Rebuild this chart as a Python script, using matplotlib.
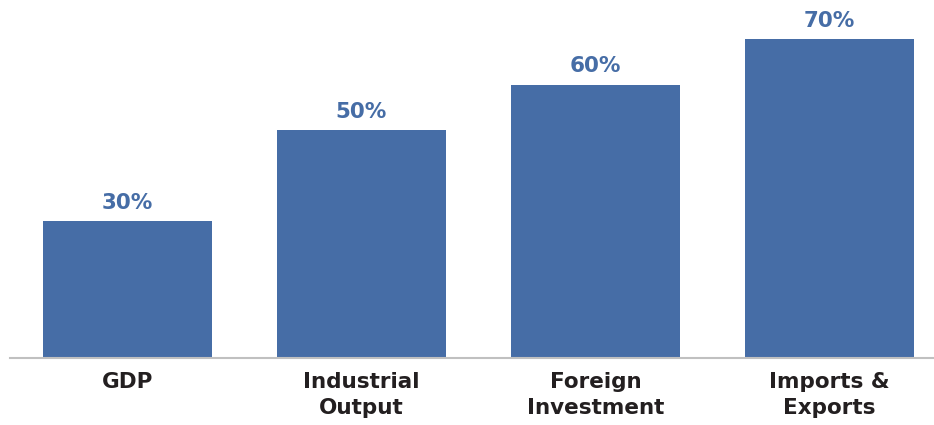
import matplotlib.pyplot as plt

categories = ["GDP", "Industrial\nOutput", "Foreign\nInvestment", "Imports &\nExports"]
values = [30, 50, 60, 70]
labels = ["30%", "50%", "60%", "70%"]

bar_color = "#466da6"
text_color = "#231f20"

plt.rcParams['font.family'] = ['DejaVu Sans']

fig = plt.figure(figsize=(9.34, 4.25), dpi=100)
ax = fig.add_axes([10 / 934, 67 / 425, 924 / 934, 358 / 425])

x = range(len(categories))
bars = ax.bar(x, values, width=169 / 234, color=bar_color, zorder=2)

for b, lab in zip(bars, labels):
    ax.annotate(lab, (b.get_x() + b.get_width() / 2, b.get_height()),
                xytext=(0, 6), textcoords="offset points",
                ha="center", va="bottom", fontsize=15.5, fontweight="bold",
                color=bar_color)

ax.set_xlim(-0.502, 3.447)
ax.set_ylim(0, 358 / 4.555)
ax.set_xticks(list(x))
ax.set_xticklabels(categories, fontsize=15.5, fontweight="bold", color=text_color,
                   linespacing=1.4)
ax.tick_params(axis="x", length=0, pad=10)
ax.set_yticks([])

for side in ["top", "right", "left"]:
    ax.spines[side].set_visible(False)
ax.spines["bottom"].set_color("#c0c0c0")
ax.spines["bottom"].set_linewidth(1.5)
ax.spines["bottom"].set_zorder(3)

fig.savefig("out.png", dpi=100)
